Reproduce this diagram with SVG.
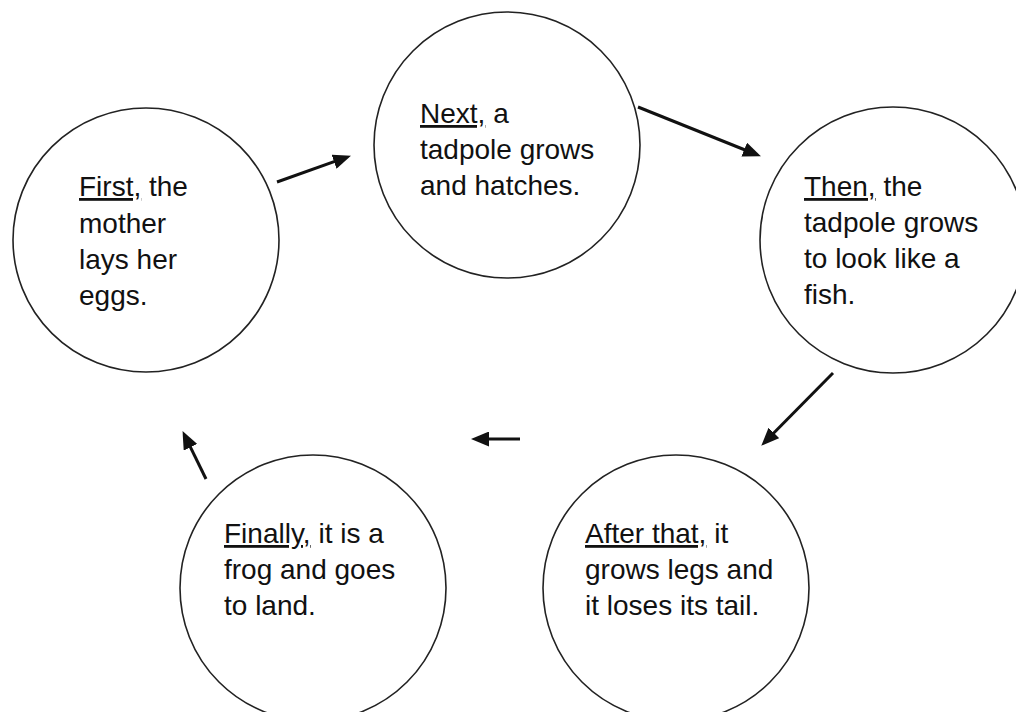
<svg xmlns="http://www.w3.org/2000/svg" width="1016" height="712" viewBox="0 0 1016 712">
<style>
.node ellipse{fill:#fff;stroke:#222;stroke-width:1.6}
.node text{font-family:"Liberation Sans",Arial,sans-serif;font-size:28px;fill:#111}
.u{text-decoration:underline;text-decoration-skip-ink:none}
#connectors line{stroke:#111;stroke-width:3;marker-end:url(#ah)}
</style>
<defs>
<marker id="ah" markerUnits="userSpaceOnUse" viewBox="0 0 18 15" markerWidth="18" markerHeight="15" refX="9" refY="7.5" orient="auto">
<path d="M0,0 L18,7.5 L0,15 z" fill="#111"/>
</marker>
</defs>
<rect width="1016" height="712" fill="#fff"/>
<g id="n1" class="node">
<ellipse cx="146" cy="240" rx="133" ry="132"/>
<text x="79" y="196"><tspan class="u">First,</tspan> the</text>
<text x="79" y="233">mother</text>
<text x="79" y="269">lays her</text>
<text x="79" y="305">eggs.</text>
</g>
<g id="n2" class="node">
<ellipse cx="507" cy="145" rx="133" ry="133"/>
<text x="420" y="123"><tspan class="u">Next,</tspan> a</text>
<text x="420" y="159">tadpole grows</text>
<text x="420" y="195">and hatches.</text>
</g>
<g id="n3" class="node">
<ellipse cx="893" cy="240" rx="133" ry="133"/>
<text x="804" y="196"><tspan class="u">Then,</tspan> the</text>
<text x="804" y="232">tadpole grows</text>
<text x="804" y="268">to look like a</text>
<text x="804" y="304">fish.</text>
</g>
<g id="n4" class="node">
<ellipse cx="313" cy="588" rx="133" ry="133"/>
<text x="224" y="543"><tspan class="u">Finally,</tspan> it is a</text>
<text x="224" y="579">frog and goes</text>
<text x="224" y="615">to land.</text>
</g>
<g id="n5" class="node">
<ellipse cx="676" cy="588" rx="133" ry="133"/>
<text x="585" y="543"><tspan class="u">After that,</tspan> it</text>
<text x="585" y="579">grows legs and</text>
<text x="585" y="615">it loses its tail.</text>
</g>
<g id="connectors">
<line x1="277" y1="182" x2="342.5" y2="158.7"/>
<line x1="638" y1="107" x2="752.6" y2="153"/>
<line x1="833" y1="373" x2="767.6" y2="439.3"/>
<line x1="520" y1="439" x2="480" y2="439"/>
<line x1="206" y1="479" x2="186.5" y2="439.2"/>
</g>
</svg>
